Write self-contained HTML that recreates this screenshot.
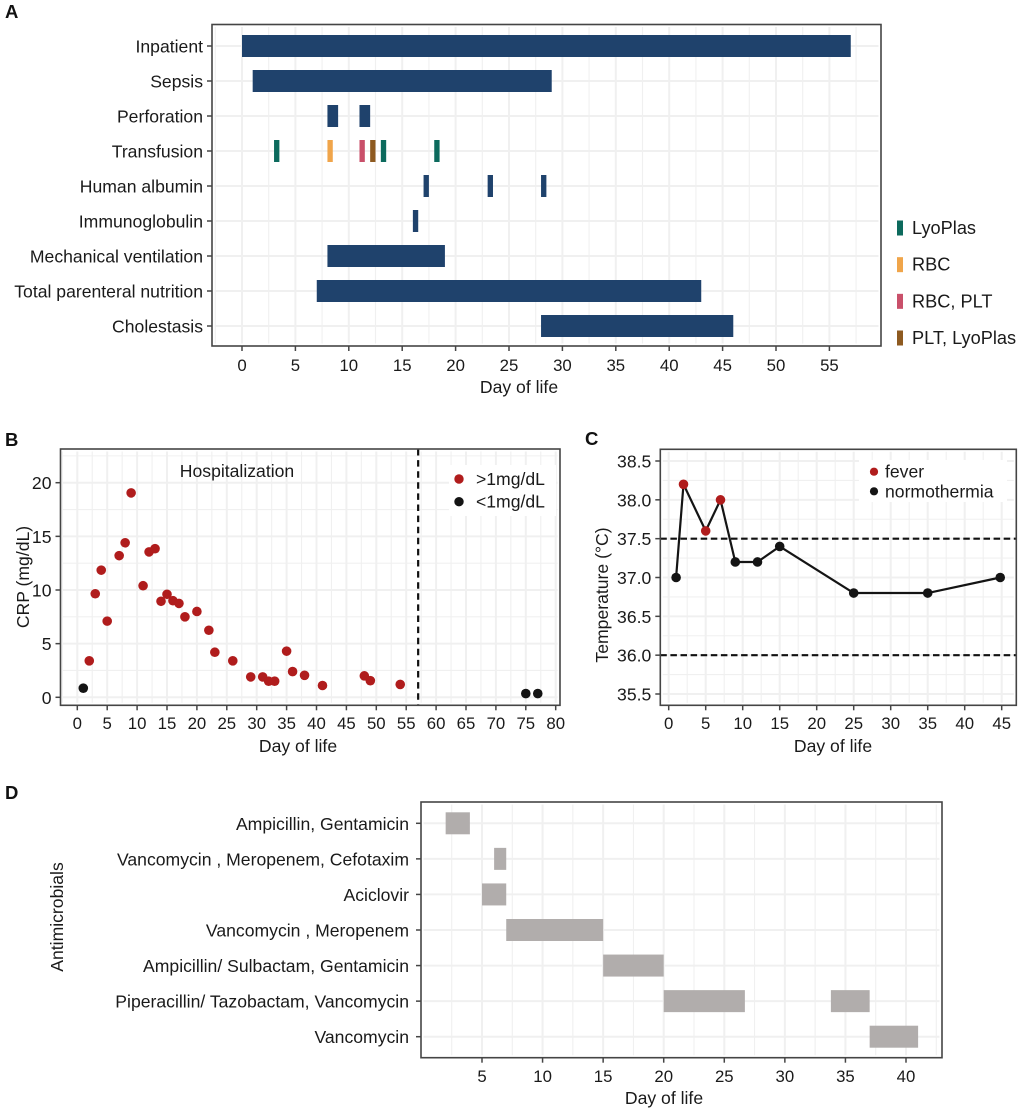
<!DOCTYPE html>
<html lang="en">
<head>
<meta charset="utf-8">
<title>Clinical course chart</title>
<style>
html,body{margin:0;padding:0;background:#fff;}
svg{display:block;}
text{font-family:"Liberation Sans",Arial,sans-serif;fill:#1a1a1a;}
.tick{font-size:16.8px;}
.cat{font-size:17.6px;}
.title{font-size:17.6px;}
.leg{font-size:17.6px;}
.panel-label{font-size:18.5px;font-weight:bold;fill:#111;}
</style>
</head>
<body>
<svg id="figure" xmlns="http://www.w3.org/2000/svg" width="1022" height="1113" viewBox="0 0 1022 1113">
  <rect x="0" y="0" width="1022" height="1113" fill="#fff"/>
  <g id="panelA"></g>
  <g id="panelB"></g>
  <g id="panelC"></g>
  <g id="panelD"></g>

  <text class="panel-label" x="5" y="18">A</text>
  <text class="panel-label" x="5" y="446">B</text>
  <text class="panel-label" x="585" y="445">C</text>
  <text class="panel-label" x="5" y="799">D</text>

  <text class="title" x="519" y="393" text-anchor="middle">Day of life</text>
  <text class="title" x="298" y="752" text-anchor="middle">Day of life</text>
  <text class="title" x="833" y="752" text-anchor="middle">Day of life</text>
  <text class="title" x="664" y="1104" text-anchor="middle">Day of life</text>
  <text class="title" transform="translate(29,577) rotate(-90)" text-anchor="middle">CRP (mg/dL)</text>
  <text class="title" transform="translate(608,595) rotate(-90)" text-anchor="middle">Temperature (°C)</text>
  <text class="title" transform="translate(63,917) rotate(-90)" text-anchor="middle">Antimicrobials</text>
  <text class="cat" x="237" y="477" text-anchor="middle">Hospitalization</text>
</svg>
<script>
// ---------- Panel A data ----------
const aCategories = ["Inpatient","Sepsis","Perforation","Transfusion","Human albumin","Immunoglobulin","Mechanical ventilation","Total parenteral nutrition","Cholestasis"];
const aStarts = [[0],[1],[8,11],[3,8,11,12,13,18],[17,23,28],[16],[8],[7],[28]];
const aEnds = [[57],[29],[9,12],[3.5,8.5,11.5,12.5,13.5,18.5],[17.5,23.5,28.5],[16.5],[19],[43],[46]];
const transfusionKinds = ["LyoPlas","RBC","RBC, PLT","PLT, LyoPlas","LyoPlas","LyoPlas"];
const transfusionLegend = ["LyoPlas","RBC","RBC, PLT","PLT, LyoPlas"];
const aXTicks = [0,5,10,15,20,25,30,35,40,45,50,55];

// ---------- Panel B data ----------
const crpHighDays = [2,3,4,5,7,8,9,11,12,13,14,15,16,17,18,20,22,23,26,29,31,32,33,35,36,38,41,48,49,54];
const crpHighValues = [3.4,9.65,11.85,7.1,13.2,14.4,19.05,10.4,13.55,13.85,8.95,9.6,9,8.75,7.5,8,6.25,4.2,3.4,1.9,1.9,1.5,1.5,4.3,2.4,2.05,1.1,2,1.55,1.2];
const crpLowDays = [1,75,77];
const crpLowValues = [0.85,0.35,0.35];
const bXTicks = [0,5,10,15,20,25,30,35,40,45,50,55,60,65,70,75,80];
const bYTicks = [0,5,10,15,20];
const hospitalDischargeDay = [57];
const bLegend = [">1mg/dL","<1mg/dL"];

// ---------- Panel C data ----------
const tempDays = [1,2,5,7,9,12,15,25,35,44.8];
const tempValues = [37,38.2,37.6,38,37.2,37.2,37.4,36.8,36.8,37];
const tempFever = [false,true,true,true,false,false,false,false,false,false];
const cXTicks = [0,5,10,15,20,25,30,35,40,45];
const cYTicks = [35.5,36,36.5,37,37.5,38,38.5];
const cYTickLabels = ["35.5","36.0","36.5","37.0","37.5","38.0","38.5"];
const tempThresholds = [37.5,36];
const cLegend = ["fever","normothermia"];

// ---------- Panel D data ----------
const dCategories = ["Ampicillin, Gentamicin","Vancomycin , Meropenem, Cefotaxim","Aciclovir","Vancomycin , Meropenem","Ampicillin/ Sulbactam, Gentamicin","Piperacillin/ Tazobactam, Vancomycin","Vancomycin"];
const dStarts = [[2],[6],[5],[7],[15],[20,33.8],[37]];
const dEnds = [[4],[7],[7],[15],[20],[26.7,37],[41]];
const dXTicks = [5,10,15,20,25,30,35,40];

// ---------- Helpers ----------
const NS = "http://www.w3.org/2000/svg";
const GRID = "#f0f0f0";
const AXIS = "#454545";
const RED = "#b01c1c";
const BLACK = "#141414";
const NAVY = "#1f426c";
const GRAY = "#b1adac";
const KIND_COLOR = {"LyoPlas":"#0c6a5d","RBC":"#f0a54a","RBC, PLT":"#c9506a","PLT, LyoPlas":"#8e5a20"};

function make(tag, attrs, parent) {
  const el = document.createElementNS(NS, tag);
  for (const k in attrs) el.setAttribute(k, attrs[k]);
  parent.appendChild(el);
  return el;
}
function linear(d0, r0, d1, r1) {
  return function (v) { return r0 + (v - d0) * (r1 - r0) / (d1 - d0); };
}
function gridLine(parent, x1, y1, x2, y2, major) {
  const el = make("line", {x1: x1, y1: y1, x2: x2, y2: y2, stroke: GRID, "stroke-width": major ? 2 : 1.1}, parent);
  
  
}
function drawFrameBackground(parent, box) {
  const el = make("rect", {x: box.l, y: box.t, width: box.r - box.l, height: box.b - box.t, fill: "#fff"}, parent);
  
  
}
function drawFrameBorder(parent, box) {
  const el = make("rect", {x: box.l, y: box.t, width: box.r - box.l, height: box.b - box.t, fill: "none", stroke: AXIS, "stroke-width": 1.6}, parent);
  
  
}
function vGrid(parent, box, ticks, sx) {
  const inset = 2.5;
  const step = ticks[1] - ticks[0];
  const lo = ticks[0] - step * 2;
  const hi = ticks[ticks.length - 1] + step * 2;
  for (let v = lo; v <= hi + 1e-6; v += step / 2) {
    const x = sx(v);
    if (x <= box.l + 1 || x >= box.r - 1) continue;
    const isMajor = Math.abs((v - ticks[0]) / step - Math.round((v - ticks[0]) / step)) < 1e-6;
    gridLine(parent, x, box.t + inset, x, box.b - inset, isMajor);
  }
}
function hGridValues(parent, box, ticks, sy) {
  const inset = 2.5;
  const step = ticks[1] - ticks[0];
  const lo = ticks[0] - step;
  const hi = ticks[ticks.length - 1] + step * 2;
  for (let v = lo; v <= hi + 1e-6; v += step / 2) {
    const y = sy(v);
    if (y <= box.t + 1 || y >= box.b - 1) continue;
    const isMajor = Math.abs((v - ticks[0]) / step - Math.round((v - ticks[0]) / step)) < 1e-6;
    gridLine(parent, box.l + inset, y, box.r - inset, y, isMajor);
  }
}
function xAxis(parent, box, ticks, sx, labelY) {
  ticks.forEach(function (v) {
    const x = sx(v);
    const t = make("line", {x1: x, y1: box.b, x2: x, y2: box.b + 5, stroke: AXIS, "stroke-width": 1.5}, parent);
    
    
    const lab = make("text", {x: x, y: labelY, "text-anchor": "middle", "class": "tick"}, parent);
    lab.textContent = String(v);
    
    
  });
}
function yAxis(parent, box, ticks, labels, sy, cls, gap) {
  ticks.forEach(function (v, i) {
    const y = sy(v);
    const t = make("line", {x1: box.l - 5, y1: y, x2: box.l, y2: y, stroke: AXIS, "stroke-width": 1.5}, parent);
    
    
    const lab = make("text", {x: box.l - gap, y: y + 6.5, "text-anchor": "end", "class": cls}, parent);
    lab.textContent = labels[i];
    
    
  });
}
function legendEntryPoint(parent, x, y, textX, color, label, radius) {
  const dot = make("circle", {cx: x, cy: y, r: radius, fill: color}, parent);
  
  
  const lab = make("text", {x: textX, y: y + 6, "class": "leg"}, parent);
  lab.textContent = label;
  
  
}
function index(arr) { return arr.map(function (_, i) { return i; }); }

// ---------- Panel A ----------
(function () {
  const g = document.getElementById("panelA");
  const box = {l: 212, r: 881, t: 24.5, b: 346};
  const sx = linear(0, 242, 55, 829.4);
  const sy = linear(0, 46, aCategories.length - 1, 326);
  drawFrameBackground(g, box);
  vGrid(g, box, aXTicks, sx);
  aCategories.forEach(function (_, i) {
    gridLine(g, box.l + 2.5, sy(i), box.r - 2.5, sy(i), true);
  });
  aCategories.forEach(function (name, i) {
    aStarts[i].forEach(function (s, j) {
      const e = aEnds[i][j];
      const color = name === "Transfusion" ? KIND_COLOR[transfusionKinds[j]] : NAVY;
      const r = make("rect", {x: sx(s), y: sy(i) - 11, width: sx(e) - sx(s), height: 22, fill: color}, g);
      
      
    });
  });
  drawFrameBorder(g, box);
  xAxis(g, box, aXTicks, sx, 371);
  yAxis(g, box, index(aCategories), aCategories, sy, "cat", 9);
  transfusionLegend.forEach(function (label, i) {
    const y = linear(0, 228, 3, 338)(i);
    const sw = make("rect", {x: 897, y: y - 7.5, width: 6, height: 15, fill: KIND_COLOR[label]}, g);
    
    
    const t = make("text", {x: 912, y: y + 6, "class": "leg"}, g);
    t.style.fontSize = "18.2px";
    t.textContent = label;
    
    
  });
})();

// ---------- Panel B ----------
(function () {
  const g = document.getElementById("panelB");
  const box = {l: 60.5, r: 560, t: 449, b: 705.3};
  const sx = linear(0, 77.3, 80, 555.7);
  const sy = linear(0, 697.3, 20, 482.7);
  drawFrameBackground(g, box);
  vGrid(g, box, bXTicks, sx);
  hGridValues(g, box, bYTicks, sy);
  hospitalDischargeDay.forEach(function (d) {
    const l = make("line", {x1: sx(d), y1: box.t, x2: sx(d), y2: box.b, stroke: "#111", "stroke-width": 2.2, "stroke-dasharray": "6.5 4.6"}, g);
    
    
  });
  const legBox = make("rect", {x: 449, y: 465, width: 107, height: 51, fill: "#fff"}, g);
  
  
  crpHighDays.forEach(function (d, i) {
    const c = make("circle", {cx: sx(d), cy: sy(crpHighValues[i]), r: 4.8, fill: RED}, g);
    
    
  });
  crpLowDays.forEach(function (d, i) {
    const c = make("circle", {cx: sx(d), cy: sy(crpLowValues[i]), r: 4.8, fill: BLACK}, g);
    
    
  });
  drawFrameBorder(g, box);
  xAxis(g, box, bXTicks, sx, 729);
  yAxis(g, box, bYTicks, bYTicks.map(String), sy, "cat", 9);
  legendEntryPoint(g, 459, 479, 476, RED, bLegend[0], 4.7);
  legendEntryPoint(g, 459, 501.7, 476, BLACK, bLegend[1], 4.7);
})();

// ---------- Panel C ----------
(function () {
  const g = document.getElementById("panelC");
  const box = {l: 660.3, r: 1016.3, t: 449.3, b: 705.3};
  const sx = linear(0, 668.7, 45, 1001.7);
  const sy = linear(35.5, 694, 38.5, 461);
  drawFrameBackground(g, box);
  vGrid(g, box, cXTicks, sx);
  hGridValues(g, box, cYTicks, sy);
  const legBox = make("rect", {x: 859, y: 460, width: 148, height: 42, fill: "#fff"}, g);
  
  
  tempThresholds.forEach(function (v) {
    const l = make("line", {x1: box.l, y1: sy(v), x2: box.r, y2: sy(v), stroke: "#111", "stroke-width": 2.2, "stroke-dasharray": "6.5 3.6"}, g);
    
    
  });
  const pts = tempDays.map(function (d, i) { return sx(d) + "," + sy(tempValues[i]); }).join(" ");
  const line = make("polyline", {points: pts, fill: "none", stroke: BLACK, "stroke-width": 2.2}, g);
  
  
  tempDays.forEach(function (d, i) {
    const c = make("circle", {cx: sx(d), cy: sy(tempValues[i]), r: 4.8, fill: tempFever[i] ? RED : BLACK}, g);
    
    
  });
  drawFrameBorder(g, box);
  xAxis(g, box, cXTicks, sx, 729);
  yAxis(g, box, cYTicks, cYTickLabels, sy, "cat", 9);
  legendEntryPoint(g, 874, 471.7, 885, RED, cLegend[0], 4.1);
  legendEntryPoint(g, 874, 491.3, 885, BLACK, cLegend[1], 4.1);
})();

// ---------- Panel D ----------
(function () {
  const g = document.getElementById("panelD");
  const box = {l: 421, r: 942, t: 802, b: 1057.7};
  const sx = linear(5, 482, 40, 906);
  const sy = linear(0, 823.3, dCategories.length - 1, 1036.7);
  drawFrameBackground(g, box);
  vGrid(g, box, dXTicks, sx);
  dCategories.forEach(function (_, i) {
    gridLine(g, box.l + 2.5, sy(i), box.r - 2.5, sy(i), true);
  });
  dCategories.forEach(function (name, i) {
    dStarts[i].forEach(function (s, j) {
      const r = make("rect", {x: sx(s), y: sy(i) - 11, width: sx(dEnds[i][j]) - sx(s), height: 22, fill: GRAY}, g);
      
      
    });
  });
  drawFrameBorder(g, box);
  xAxis(g, box, dXTicks, sx, 1082);
  yAxis(g, box, index(dCategories), dCategories, sy, "cat", 12);
})();
</script>
</body>
</html>
